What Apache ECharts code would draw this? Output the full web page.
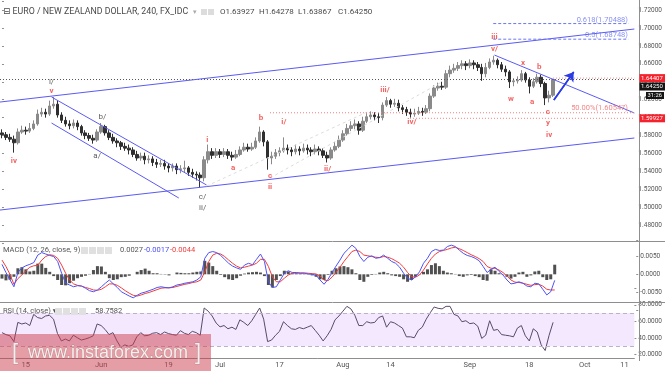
<!DOCTYPE html>
<html><head><meta charset="utf-8">
<script src="https://cdn.jsdelivr.net/npm/echarts/dist/echarts.min.js"></script>
<style>html,body{margin:0;padding:0;background:#fff}#c{width:665px;height:371px}</style>
</head><body><div id="c"></div>
<script>
// ---- candle data (one candle per slice of the time axis) ----
const priceOpen = [
1.583,1.581,1.578,1.576,1.572,1.584,1.586,1.585,1.588,1.593,
1.604,1.606,1.604,1.613,1.615,1.603,1.597,1.593,1.591,1.594,
1.590,1.583,1.580,1.577,1.575,1.584,1.590,1.583,1.578,1.574,
1.572,1.568,1.566,1.564,1.559,1.555,1.557,1.553,1.554,1.550,
1.548,1.549,1.546,1.544,1.546,1.542,1.543,1.544,1.539,1.537,
1.536,1.533,1.553,1.562,1.558,1.562,1.559,1.562,1.558,1.556,
1.559,1.564,1.567,1.565,1.567,1.574,1.584,1.573,1.555,1.557,
1.561,1.563,1.566,1.564,1.562,1.565,1.563,1.566,1.564,1.562,
1.565,1.563,1.558,1.555,1.564,1.568,1.575,1.582,1.588,1.591,
1.593,1.586,1.596,1.601,1.603,1.601,1.600,1.614,1.619,1.615,
1.616,1.611,1.609,1.606,1.604,1.605,1.607,1.606,1.610,1.624,
1.633,1.635,1.634,1.649,1.653,1.655,1.658,1.660,1.658,1.661,
1.659,1.656,1.649,1.656,1.662,1.664,1.659,1.654,1.651,1.640,
1.641,1.642,1.649,1.642,1.635,1.640,1.645,1.638,1.622,1.625];
const priceClose = [
1.581,1.578,1.576,1.572,1.584,1.586,1.585,1.588,1.593,1.604,
1.606,1.604,1.613,1.615,1.603,1.597,1.593,1.591,1.594,1.590,
1.583,1.580,1.577,1.575,1.584,1.590,1.583,1.578,1.574,1.572,
1.568,1.566,1.564,1.559,1.555,1.557,1.553,1.554,1.550,1.548,
1.549,1.546,1.544,1.546,1.542,1.543,1.544,1.539,1.537,1.536,
1.533,1.553,1.562,1.558,1.562,1.559,1.562,1.558,1.556,1.559,
1.564,1.567,1.565,1.567,1.574,1.584,1.573,1.555,1.557,1.561,
1.563,1.566,1.564,1.562,1.565,1.563,1.566,1.564,1.562,1.565,
1.563,1.558,1.555,1.564,1.568,1.575,1.582,1.588,1.591,1.593,
1.586,1.596,1.601,1.603,1.601,1.600,1.614,1.619,1.615,1.616,
1.611,1.609,1.606,1.604,1.605,1.607,1.606,1.610,1.624,1.633,
1.635,1.634,1.649,1.653,1.655,1.658,1.660,1.658,1.661,1.659,
1.656,1.649,1.656,1.662,1.664,1.659,1.654,1.651,1.640,1.641,
1.642,1.649,1.642,1.635,1.640,1.645,1.638,1.622,1.625,1.6425];
const priceLow = [
1.577,1.575,1.573,1.561,1.570,1.582,1.581,1.583,1.586,1.591,
1.601,1.600,1.602,1.610,1.600,1.594,1.590,1.587,1.588,1.586,
1.580,1.576,1.574,1.571,1.573,1.582,1.580,1.575,1.571,1.567,
1.564,1.563,1.559,1.556,1.552,1.552,1.548,1.549,1.546,1.544,
1.545,1.542,1.539,1.540,1.537,1.538,1.539,1.535,1.533,1.530,
1.522,1.529,1.549,1.554,1.555,1.555,1.556,1.554,1.552,1.554,
1.557,1.562,1.562,1.563,1.565,1.572,1.568,1.542,1.548,1.554,
1.557,1.561,1.559,1.557,1.559,1.558,1.561,1.559,1.557,1.559,
1.558,1.555,1.550,1.553,1.562,1.566,1.573,1.580,1.585,1.587,
1.581,1.584,1.594,1.598,1.597,1.594,1.597,1.612,1.611,1.612,
1.607,1.604,1.602,1.600,1.601,1.603,1.602,1.604,1.607,1.622,
1.630,1.631,1.632,1.645,1.650,1.652,1.654,1.653,1.655,1.654,
1.652,1.641,1.645,1.654,1.659,1.655,1.651,1.646,1.633,1.635,
1.638,1.640,1.639,1.627,1.633,1.638,1.634,1.614,1.617,1.623];
const priceHigh = [
1.587,1.584,1.582,1.580,1.588,1.591,1.590,1.594,1.597,1.609,
1.611,1.610,1.619,1.623,1.619,1.606,1.601,1.597,1.598,1.597,
1.592,1.586,1.583,1.581,1.587,1.594,1.592,1.586,1.582,1.577,
1.574,1.572,1.570,1.567,1.563,1.561,1.561,1.558,1.557,1.554,
1.553,1.553,1.549,1.549,1.549,1.547,1.552,1.546,1.543,1.540,
1.539,1.557,1.570,1.566,1.566,1.565,1.566,1.565,1.562,1.564,
1.568,1.572,1.571,1.572,1.578,1.590,1.586,1.575,1.562,1.565,
1.567,1.578,1.570,1.567,1.570,1.568,1.571,1.570,1.567,1.570,
1.568,1.566,1.562,1.567,1.573,1.580,1.586,1.593,1.596,1.598,
1.596,1.601,1.605,1.607,1.606,1.605,1.617,1.623,1.621,1.621,
1.620,1.614,1.612,1.610,1.610,1.612,1.611,1.614,1.627,1.636,
1.639,1.640,1.653,1.658,1.660,1.662,1.664,1.663,1.665,1.664,
1.662,1.660,1.661,1.666,1.669,1.666,1.662,1.658,1.653,1.644,
1.646,1.653,1.651,1.645,1.644,1.649,1.648,1.640,1.630,1.6428];

// ---- MACD (12, 26, close, 9) ----
const macdLine = [
0.0028,0.0005,-0.0015,-0.0035,0.0005,0.0018,0.0024,0.0028,0.0033,0.0054,
0.0061,0.0057,0.0053,0.0050,0.0036,0.0003,-0.0025,-0.0030,-0.0035,-0.0032,
-0.0033,-0.0039,-0.0046,-0.0049,-0.0044,-0.0035,-0.0025,-0.0016,-0.0027,-0.0037,
-0.0049,-0.0055,-0.0061,-0.0066,-0.0059,-0.0053,-0.0050,-0.0046,-0.0042,-0.0037,
-0.0035,-0.0037,-0.0038,-0.0035,-0.0030,-0.0028,-0.0025,-0.0023,-0.0021,-0.0016,
-0.0007,0.0045,0.0061,0.0064,0.0061,0.0053,0.0042,0.0031,0.0023,0.0018,
0.0014,0.0026,0.0031,0.0027,0.0042,0.0057,0.0036,-0.0021,-0.0037,-0.0035,
-0.0016,0.0003,0.0010,0.0005,0.0005,0.0003,0.0003,0.0001,0.0000,-0.0003,
-0.0016,-0.0028,-0.0014,0.0005,0.0023,0.0040,0.0059,0.0070,0.0082,0.0073,
0.0050,0.0036,0.0048,0.0052,0.0045,0.0047,0.0054,0.0045,0.0036,0.0031,
0.0020,0.0003,-0.0011,-0.0016,-0.0007,0.0007,0.0031,0.0045,0.0064,0.0070,
0.0067,0.0068,0.0078,0.0082,0.0078,0.0068,0.0059,0.0053,0.0050,0.0045,
0.0038,0.0022,0.0005,0.0014,0.0020,0.0008,-0.0002,-0.0016,-0.0027,-0.0025,
-0.0021,-0.0025,-0.0033,-0.0035,-0.0025,-0.0027,-0.0042,-0.0058,-0.0049,-0.0017];
const signalLine = [
0.0040,0.0022,0.0000,-0.0028,-0.0012,-0.0002,0.0010,0.0020,0.0024,0.0025,
0.0040,0.0050,0.0055,0.0053,0.0045,0.0026,0.0003,-0.0016,-0.0027,-0.0031,
-0.0033,-0.0037,-0.0040,-0.0044,-0.0045,-0.0042,-0.0035,-0.0027,-0.0027,-0.0031,
-0.0038,-0.0046,-0.0053,-0.0059,-0.0061,-0.0058,-0.0054,-0.0051,-0.0047,-0.0043,
-0.0039,-0.0038,-0.0038,-0.0037,-0.0034,-0.0031,-0.0028,-0.0026,-0.0023,-0.0021,
-0.0016,0.0007,0.0036,0.0054,0.0059,0.0057,0.0050,0.0040,0.0031,0.0023,
0.0018,0.0020,0.0023,0.0026,0.0031,0.0042,0.0042,0.0022,-0.0007,-0.0021,
-0.0021,-0.0011,-0.0002,0.0003,0.0004,0.0004,0.0004,0.0003,0.0002,0.0001,
-0.0005,-0.0016,-0.0018,-0.0008,0.0005,0.0020,0.0036,0.0050,0.0064,0.0068,
0.0064,0.0054,0.0052,0.0050,0.0048,0.0047,0.0050,0.0048,0.0044,0.0038,
0.0031,0.0020,0.0005,-0.0007,-0.0008,-0.0002,0.0012,0.0029,0.0045,0.0057,
0.0064,0.0067,0.0070,0.0074,0.0076,0.0072,0.0067,0.0061,0.0055,0.0050,
0.0044,0.0036,0.0022,0.0017,0.0017,0.0012,0.0005,-0.0005,-0.0016,-0.0022,
-0.0023,-0.0025,-0.0028,-0.0031,-0.0029,-0.0028,-0.0033,-0.0042,-0.0044,-0.0044];
const macdHist = [
-0.0012,-0.0017,-0.0015,-0.0007,0.0017,0.0020,0.0014,0.0008,0.0010,0.0030,
0.0030,0.0018,0.0007,-0.0005,-0.0016,-0.0030,-0.0031,-0.0025,-0.0018,-0.0011,
-0.0007,-0.0004,0.0001,0.0012,0.0023,0.0022,0.0007,-0.0011,-0.0016,-0.0014,
-0.0008,-0.0007,-0.0004,0.0000,0.0007,0.0012,0.0016,0.0010,0.0003,0.0003,
0.0001,-0.0001,-0.0003,0.0000,0.0005,0.0004,0.0003,0.0003,0.0005,0.0007,
0.0008,0.0038,0.0033,0.0023,0.0010,-0.0002,-0.0008,-0.0014,-0.0016,-0.0011,
-0.0004,0.0002,0.0005,0.0006,0.0007,0.0005,-0.0005,-0.0030,-0.0037,-0.0016,
-0.0005,0.0010,0.0008,0.0003,0.0003,0.0002,0.0001,0.0001,-0.0003,-0.0007,
-0.0014,-0.0016,-0.0002,0.0010,0.0017,0.0022,0.0023,0.0020,0.0014,0.0003,
-0.0016,-0.0021,-0.0007,-0.0002,0.0001,0.0005,0.0007,0.0003,-0.0003,-0.0005,
-0.0007,-0.0014,-0.0021,-0.0016,-0.0007,0.0001,0.0007,0.0014,0.0026,0.0031,
0.0023,0.0010,0.0005,0.0003,0.0001,-0.0005,-0.0007,-0.0003,-0.0002,-0.0005,
-0.0008,-0.0016,-0.0018,0.0014,0.0010,0.0003,-0.0001,-0.0007,-0.0012,-0.0007,
0.0005,0.0007,-0.0007,-0.0003,0.0008,0.0010,-0.0008,-0.0016,-0.0014,0.0027];

// ---- RSI (14, close) ----
const rsiLine = [
46.3,44.0,42.5,35.5,58.7,56.8,58.0,54.9,68.4,64.5,
63.4,66.5,67.2,62.6,45.2,36.3,38.6,36.3,43.2,40.2,
37.4,38.6,40.2,42.5,56.8,54.9,50.2,44.0,46.3,36.3,
28.5,31.6,29.7,31.6,41.3,46.3,42.5,43.2,45.6,46.3,
44.0,47.1,45.2,44.0,43.2,48.7,45.6,44.0,47.9,46.3,
43.2,76.1,72.3,66.5,58.0,53.3,54.9,51.0,52.9,50.2,
61.8,58.7,54.9,60.7,68.4,76.1,62.6,35.5,37.4,43.2,
47.9,59.5,54.9,51.0,50.2,52.5,51.0,52.9,54.9,49.1,
43.2,36.3,42.5,50.2,61.8,66.5,72.3,78.1,75.0,67.2,
54.9,54.9,59.5,58.0,58.7,64.5,66.5,52.9,59.5,58.0,
54.9,51.8,41.3,41.3,40.2,49.1,52.9,62.6,70.3,77.3,
75.7,75.0,78.1,78.1,68.4,66.5,59.5,60.7,57.2,58.0,
54.1,39.4,43.2,60.7,49.1,50.2,44.0,43.2,42.5,41.3,
51.8,54.9,42.5,36.3,51.0,47.1,31.6,24.7,43.2,58.76];

// ---- time axis ----
const slotCount = 160;
const tickIndex = [6, 25, 42, 55, 70, 86, 98, 118, 133, 147, 157];
const tickLabels = ['15', 'Jun', '19', 'Jul', '17', 'Aug', '14', 'Sep', '18', 'Oct', '11'];

// ---- annotations (slot index, price) ----
const channelLines = [
  [[-0.5, 1.6174], [159.5, 1.6988]],
  [[-0.5, 1.4970], [159.5, 1.5773]],
  [[12.5, 1.6230], [51.6, 1.5249]],
  [[12.5, 1.5940], [44.6, 1.5104]],
  [[124.2, 1.6698], [159.5, 1.6052]]
];
const guideLines = [
  [[51.6, 1.5237], [92.1, 1.6063]],
  [[67.6, 1.5327], [110.9, 1.6397]]
];
const arrowLine = [[139.2, 1.6197], [144.2, 1.6509]];
const fibLevels = [1.70488, 1.68748];
const fibStart = 123.9;
const fibTexts = [['0.618(1.70488)', 1.7089], ['0.5(1.68748)', 1.6921]];
const redLevels = [[1.64407, 139.0], [1.60547, 67.6], [1.59927, 102.9]];
const redText = [['50.00%(1.60547)', 1.6107]];
const lastPrice = 1.6425;
const redWaveLabels = [
  ['v',12.5,1.6297],['iv',3.0,1.5516],['i',51.8,1.5751],['a',58.3,1.5438],
  ['b',65.3,1.5996],['c',67.6,1.5349],['ii',67.6,1.5226],['i/',71.1,1.5951],
  ['ii/',82.1,1.5427],['iii/',96.6,1.6308],['iv/',103.4,1.5951],['iii',124.2,1.6899],
  ['v/',124.2,1.6765],['w',128.4,1.6208],['x',131.4,1.6609],['a',133.7,1.6174],
  ['b',135.5,1.6564],['c',137.7,1.6063],['y',137.7,1.5940],['iv',138.0,1.5806]
];
const darkWaveLabels = [
  ['i/',12.5,1.6397],['b/',25.3,1.6007],['a/',24.0,1.5572],['c/',50.6,1.5115],['ii/',50.6,1.4992]
];

const FONT = 'Roboto, "DejaVu Sans", sans-serif';
const chart = echarts.init(document.getElementById('c'));
const cats = Array.from({length: slotCount}, (_, i) => i);
const candles = priceOpen.map((o, i) => [o, priceClose[i], priceLow[i], priceHigh[i]]);

function seg(points, color, type, width) {
  return {type: 'line', xAxisIndex: 3, yAxisIndex: 0, data: points, symbol: 'none', silent: true,
    z: 4, lineStyle: {color: color, type: type, width: width || 1}};
}
function labelSeries(items, color, weight, pos, size) {
  return {type: 'scatter', xAxisIndex: 3, yAxisIndex: 0, symbolSize: 1, silent: true, z: 6,
    itemStyle: {color: 'rgba(0,0,0,0)'},
    data: items.map(d => ({name: d[0], value: [d[1], d[2]]})),
    label: {show: true, position: pos || 'inside', distance: 0, formatter: '{b}', color: color,
      fontSize: size || 8, fontWeight: weight, fontFamily: FONT}};
}

const series = [
  {type: 'candlestick', xAxisIndex: 0, yAxisIndex: 0, data: candles, barWidth: 3, z: 3,
    itemStyle: {color: '#8a8a8a', color0: '#2f2f2f', borderColor: '#8a8a8a', borderColor0: '#2f2f2f', borderWidth: 1}},
  seg([[-0.5, lastPrice], [159.5, lastPrice]], '#555', [1, 2], 1)
];
channelLines.forEach(l => series.push(seg(l, '#5a5af2', 'solid', 1)));
guideLines.forEach(l => series.push(seg(l, '#dcdcdc', [3, 3], 1)));
fibLevels.forEach(v => series.push(seg([[fibStart, v], [158, v]], '#6b77f0', [3, 2], 1)));
redLevels.forEach(r => series.push(seg([[r[1], r[0]], [159.5, r[0]]], '#f28080', [1, 2], 1)));
const arrow = seg(arrowLine, '#2b3be6', 'solid', 1.5);
arrow.markLine = {silent: true, symbol: ['none', 'arrow'], symbolSize: 9, label: {show: false},
  lineStyle: {color: '#2b3be6', width: 1.5, type: 'solid'},
  data: [[{coord: arrowLine[0]}, {coord: arrowLine[1]}]]};
series.push(arrow);
series.push(labelSeries(redWaveLabels, '#f03c3c', 'bold'));
series.push(labelSeries(darkWaveLabels, '#333', 'normal'));
series.push(labelSeries(fibTexts.map(t => [t[0], 158, t[1]]), '#6b77f0', 'normal', 'left', 7.5));
series.push(labelSeries(redText.map(t => [t[0], 158, t[1]]), '#f06868', 'normal', 'left', 7.5));
// MACD
series.push({type: 'bar', xAxisIndex: 1, yAxisIndex: 1, data: macdHist, barWidth: 3,
  itemStyle: {color: '#505050'}, silent: true});
series.push({type: 'line', xAxisIndex: 1, yAxisIndex: 1, data: macdLine, symbol: 'none', silent: true,
  lineStyle: {color: '#4d52f5', width: 1}, z: 4});
series.push({type: 'line', xAxisIndex: 1, yAxisIndex: 1, data: signalLine, symbol: 'none', silent: true,
  lineStyle: {color: '#f23c3c', width: 1}, z: 3});
// RSI
series.push({type: 'line', xAxisIndex: 2, yAxisIndex: 2, data: rsiLine, symbol: 'none', silent: true,
  lineStyle: {color: '#5b4a6a', width: 1}, z: 4,
  markArea: {silent: true, itemStyle: {color: '#f3e8fd'}, data: [[{yAxis: 30}, {yAxis: 70}]]},
  markLine: {silent: true, symbol: 'none', label: {show: false},
    lineStyle: {color: '#bdb0cc', type: [4, 3], width: 1}, data: [{yAxis: 70}, {yAxis: 30}]}});

const axLabel = {fontSize: 6.5, color: '#555', fontFamily: FONT, margin: 4};
const tickSet = new Set(tickIndex);

chart.setOption({
  animation: false,
  textStyle: {fontFamily: FONT},
  grid: [
    {left: 0, right: 25.7, top: 1.03, height: 242.2},
    {left: 0, right: 25.7, top: 240.5, height: 69.4},
    {left: 0, right: 25.7, top: 288.2, height: 85.6}
  ],
  xAxis: [
    {type: 'category', gridIndex: 0, data: cats, show: false},
    {type: 'category', gridIndex: 1, data: cats, show: false},
    {type: 'category', gridIndex: 2, data: cats, position: 'bottom', offset: -12.8,
      axisLine: {lineStyle: {color: '#8f8f8f'}},
      axisTick: {alignWithLabel: true, length: 3, interval: (i) => tickSet.has(i), lineStyle: {color: '#8f8f8f'}},
      axisLabel: {fontSize: 7.5, color: '#555', fontFamily: FONT, margin: 3,
        interval: (i) => tickSet.has(i),
        formatter: (v, i) => { const k = tickIndex.indexOf(i); return k >= 0 ? tickLabels[k] : ''; }}},
    {type: 'value', gridIndex: 0, min: -0.5, max: 159.5, show: false}
  ],
  yAxis: [
    {type: 'value', gridIndex: 0, position: 'right', min: 1.46, max: 1.73, interval: 0.02,
      axisLine: {show: false}, splitLine: {show: false},
      axisTick: {show: true, length: 2, lineStyle: {color: '#8f8f8f'}},
      axisLabel: Object.assign({formatter: v => (v < 1.47 || v > 1.725) ? '' : v.toFixed(5)}, axLabel)},
    {type: 'value', gridIndex: 1, position: 'right', min: -0.01, max: 0.0095, interval: 0.005,
      axisLine: {show: false}, splitLine: {show: false},
      axisTick: {show: true, length: 2, lineStyle: {color: '#8f8f8f'}},
      axisLabel: Object.assign({formatter: v => (v < -0.009 || v > 0.007) ? '' : (Math.abs(v) < 1e-9 ? '0.0000' : v.toFixed(4))}, axLabel)},
    {type: 'value', gridIndex: 2, position: 'right', min: 0, max: 100, interval: 20,
      axisLine: {show: false}, splitLine: {show: false},
      axisTick: {show: true, length: 2, lineStyle: {color: '#8f8f8f'}},
      axisLabel: Object.assign({formatter: v => (v < 10 || v > 90) ? '' : v.toFixed(4)}, axLabel)}
  ],
  series: series
});

// ---- overlay texts and price tags ----
function T(x, y, text, fill, size, extra) {
  return {type: 'text', x: x, y: y, silent: true, z: 100,
    style: Object.assign({text: text, fill: fill, font: (size || 8) + 'px ' + FONT,
      textAlign: 'left', textVerticalAlign: 'middle', align: 'left', verticalAlign: 'middle'}, extra || {})};
}
function R(x, y, w, h, fill) {
  return {type: 'rect', silent: true, z: 100, shape: {x: x, y: y, width: w, height: h}, style: {fill: fill}};
}
function L(x1, y1, x2, y2, stroke) {
  return {type: 'line', silent: true, z: 99, shape: {x1: x1, y1: y1, x2: x2, y2: y2}, style: {stroke: stroke, lineWidth: 1}};
}
const yP = v => chart.convertToPixel({yAxisIndex: 0}, v);
const yRed1 = yP(1.64407), yLast = yP(lastPrice), yRed2 = yP(1.59927);
const g = [
  L(0, 241.5, 665, 241.5, '#8f8f8f'),
  L(0, 302.5, 665, 302.5, '#8f8f8f'),
  L(639.5, 0, 639.5, 361, '#8f8f8f'),
  T(3, 12, '\u229F EURO / NEW ZEALAND DOLLAR, 240, FX_IDC', '#4a4a4a', 8.8),
  T(193, 12, '\u25BE', '#aaa', 7),
  R(201, 9, 6, 6, '#dcdcdc'), R(208, 9, 6, 6, '#dcdcdc'),
  T(220, 12, 'O1.63927', '#4a4a4a', 8), T(259, 12, 'H1.64278', '#4a4a4a', 8),
  T(298, 12, 'L1.63867', '#4a4a4a', 8), T(338, 12, 'C1.64250', '#4a4a4a', 8),
  T(3, 250, 'MACD (12, 26, close, 9) \u25BE', '#555', 7.5),
  R(81, 247, 7, 7, '#e0e0e0'), R(89, 247, 7, 7, '#e0e0e0'), R(97, 247, 7, 7, '#e0e0e0'), R(105, 247, 7, 7, '#e0e0e0'),
  T(120, 250, '0.0027', '#555', 7.5), T(144, 250, '-0.0017', '#4d52f5', 7.5), T(170, 250, '-0.0044', '#f23c3c', 7.5),
  T(3, 311, 'RSI (14, close) \u25BE', '#555', 7.5),
  R(55, 308, 7, 7, '#e0e0e0'), R(63, 308, 7, 7, '#e0e0e0'), R(71, 308, 7, 7, '#e0e0e0'), R(79, 308, 7, 7, '#e0e0e0'),
  T(95, 311, '58.7582', '#555', 7.5),
  // price tags
  R(639.5, yRed1 - 4, 25.5, 8, '#f5222d'), T(641, yRed1, '1.64407', '#fff', 6),
  R(639.5, yLast + 3, 25.5, 8, '#141414'), T(641, yLast + 7, '1.64250', '#fff', 6),
  R(646, yLast + 12.5, 18, 7, '#141414'), T(647.5, yLast + 16, '31:26', '#fff', 5.8),
  R(639.5, yRed2 - 4, 25.5, 8, '#f5222d'), T(641, yRed2, '1.59927', '#fff', 6),
  // watermark
  R(0, 334, 211, 37, 'rgba(206,62,78,0.5)'),
  T(12, 353, '[', '#f6eeee', 22, {font: '22px "Liberation Sans", Arial, sans-serif', stroke: 'rgba(120,90,90,0.5)', lineWidth: 0.6}),
  T(28, 353, 'www.instaforex.com', '#f6eeee', 18, {font: '18px "Liberation Sans", Arial, sans-serif', stroke: 'rgba(120,90,90,0.5)', lineWidth: 0.6}),
  T(195, 353, ']', '#f6eeee', 22, {font: '22px "Liberation Sans", Arial, sans-serif', stroke: 'rgba(120,90,90,0.5)', lineWidth: 0.6})
];
chart.setOption({graphic: {elements: g}});
</script>
</body></html>
